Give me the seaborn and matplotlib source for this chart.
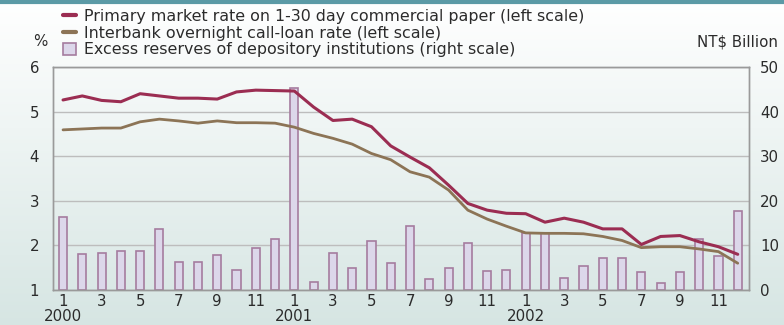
import matplotlib
matplotlib.use("Agg")
import matplotlib.pyplot as plt
import matplotlib.patches as mpatches
from matplotlib.lines import Line2D
import matplotlib.transforms as mtransforms
import numpy as np
import pandas as pd
import seaborn as sns

# ---- data: monthly, Jan 2000 .. Dec 2002 ----
month_labels = ["1", "", "3", "", "5", "", "7", "", "9", "", "11", ""] * 3
years = ["2000", "2001", "2002"]

cp_rate = [5.26, 5.35, 5.25, 5.22, 5.40, 5.35, 5.30, 5.30, 5.28, 5.44, 5.48, 5.47,
           5.46, 5.10, 4.80, 4.83, 4.66, 4.23, 3.98, 3.74, 3.35, 2.94, 2.79, 2.72,
           2.71, 2.52, 2.61, 2.52, 2.37, 2.37, 2.02, 2.20, 2.22, 2.08, 1.97, 1.80]

call_rate = [4.59, 4.61, 4.63, 4.63, 4.77, 4.83, 4.79, 4.74, 4.79, 4.75, 4.75, 4.74,
             4.65, 4.51, 4.40, 4.27, 4.06, 3.92, 3.65, 3.53, 3.24, 2.79, 2.59, 2.43,
             2.28, 2.27, 2.27, 2.26, 2.20, 2.11, 1.95, 1.97, 1.97, 1.92, 1.86, 1.60]

excess_reserves = [16.3, 8.1, 8.2, 8.7, 8.7, 13.6, 6.2, 6.2, 7.8, 4.5, 9.5, 11.4,
                   45.3, 1.9, 8.2, 5.0, 11.0, 6.1, 14.4, 2.5, 4.9, 10.5, 4.3, 4.5,
                   12.8, 12.8, 2.8, 5.4, 7.1, 7.1, 4.1, 1.6, 4.1, 11.4, 7.7, 17.7]

idx = np.arange(len(cp_rate))
df = pd.DataFrame({"idx": idx, "cp": cp_rate, "call": call_rate,
                   "excess": excess_reserves})

RED = "#9b2d52"
BROWN = "#8c7456"
BAR_FACE = "#dcd7ea"
BAR_EDGE = "#a57c9f"
GRID = "#bdbdbd"
SPINE = "#9a9a9a"
TXT = "#2b2b2b"
FS = 10.8

sns.set_theme(style="white")
plt.rcParams["font.family"] = ["DejaVu Sans"]

fig = plt.figure(figsize=(7.84, 3.25), dpi=100)

# background gradient
bg = fig.add_axes([0, 0, 1, 1], zorder=-10)
grad = np.linspace(0, 1, 256).reshape(-1, 1)
top_c = np.array([1.0, 1.0, 1.0])
bot_c = np.array([0.84, 0.90, 0.89])
img = top_c * (1 - grad[..., None]) + bot_c * grad[..., None]
img = img.reshape(256, 1, 3)
bg.imshow(img, aspect="auto", extent=[0, 1, 0, 1])
bg.axhline(0.995, color="#5b9aa6", lw=3)
bg.set_xlim(0, 1); bg.set_ylim(0, 1)
bg.axis("off")

ax = fig.add_axes([0.0676, 0.1077, 0.8874, 0.6863])
ax2 = ax.twinx()

# bars on right scale, behind lines
sns.barplot(data=df, x="idx", y="excess", ax=ax2, native_scale=True,
            width=0.42, color=BAR_FACE, edgecolor=BAR_EDGE, linewidth=1.2,
            saturation=1, zorder=2)
ax2.set_ylim(0, 50)
ax2.set_yticks([0, 10, 20, 30, 40, 50])
ax2.yaxis.grid(True, color=GRID, lw=1)
ax2.set_axisbelow(True)
ax2.set_ylabel(""); ax2.set_xlabel("")

ax.set_zorder(ax2.get_zorder() + 1)
ax.patch.set_visible(False)
ax2.patch.set_visible(False)

sns.lineplot(data=df, x="idx", y="cp", ax=ax, color=RED, lw=2.2)
sns.lineplot(data=df, x="idx", y="call", ax=ax, color=BROWN, lw=2.0)
ax.set_ylim(1, 6)
ax.set_yticks([1, 2, 3, 4, 5, 6])
ax.set_xlim(-0.52, 35.57)
ax.set_xlabel(""); ax.set_ylabel("")

# x ticks: labels at months, small tick marks at month boundaries
ax.set_xticks(idx)
ax.set_xticklabels(month_labels)
ax.set_xticks(idx[:-1] + 0.5, minor=True)
ax.tick_params(axis="x", which="major", length=0, pad=3, labelsize=FS,
               colors=TXT)
ax.tick_params(axis="x", which="minor", direction="in", length=4,
               width=1, color=SPINE)
ax.tick_params(axis="y", length=0, pad=10, labelsize=FS, colors=TXT)
ax2.tick_params(axis="y", length=0, pad=8, labelsize=FS, colors=TXT)

trans = mtransforms.blended_transform_factory(ax.transData, ax.transAxes)
for k, yr in enumerate(years):
    ax.text(12 * k, -0.117, yr, transform=trans, ha="center", va="center",
            fontsize=FS, color=TXT)

for a in (ax, ax2):
    for s in a.spines.values():
        s.set_color(SPINE)
        s.set_linewidth(1)

fig.text(40 / 784, 1 - 42 / 325, "%", ha="center", va="center",
         fontsize=FS, color=TXT)
fig.text(778 / 784, 1 - 42 / 325, "NT$ Billion", ha="right", va="center",
         fontsize=FS, color=TXT)

handles = [
    Line2D([0], [0], color=RED, lw=3),
    Line2D([0], [0], color=BROWN, lw=3),
    mpatches.Patch(facecolor=BAR_FACE, edgecolor=BAR_EDGE, lw=1.2),
]
labels = [
    "Primary market rate on 1-30 day commercial paper (left scale)",
    "Interbank overnight call-loan rate (left scale)",
    "Excess reserves of depository institutions (right scale)",
]
fig.legend(handles, labels, loc="upper left",
           bbox_to_anchor=(63 / 784, 1 - 9 / 325), frameon=False,
           fontsize=FS + 0.6, handlelength=0.8, handleheight=0.8,
           handletextpad=0.55, labelspacing=0.1, borderaxespad=0,
           borderpad=0, labelcolor=TXT)

fig.savefig("out.png", dpi=100)
plt.close(fig)
